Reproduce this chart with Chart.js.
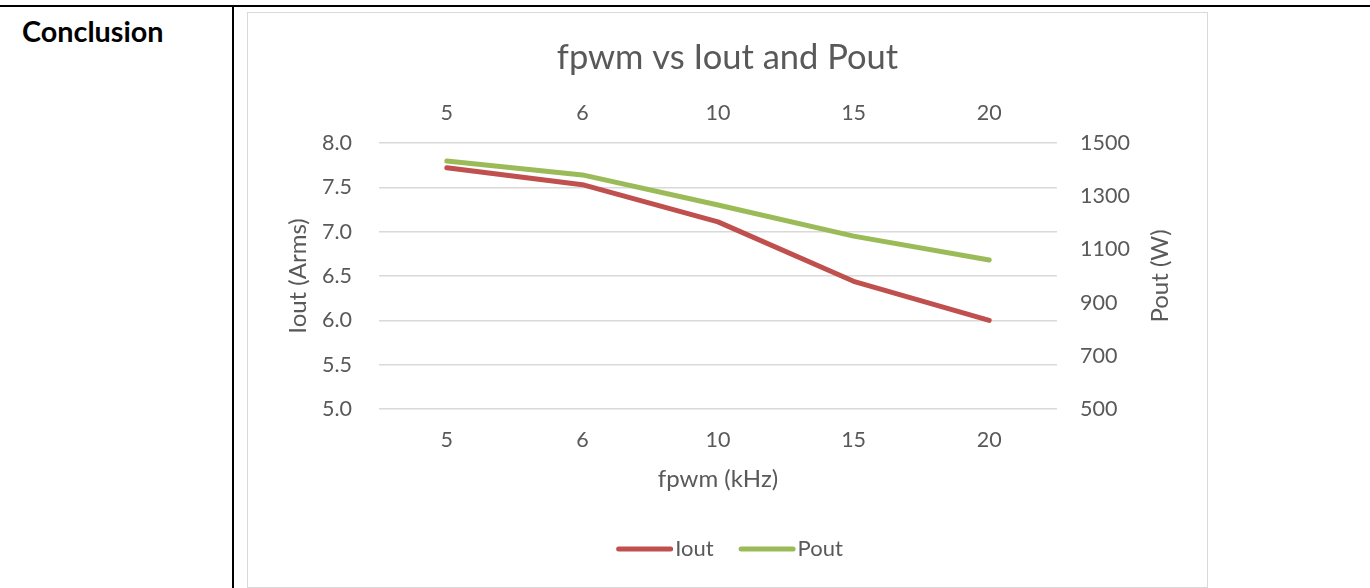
<!DOCTYPE html>
<html><head><meta charset="utf-8">
<script src="https://cdn.jsdelivr.net/npm/chart.js@4.4.1/dist/chart.umd.min.js"></script>
<style>
html,body{margin:0;padding:0;background:#fff;width:1370px;height:588px;overflow:hidden;}
#hline{position:absolute;left:0;top:5px;width:1370px;height:2px;background:#000;}
#vline{position:absolute;left:232px;top:6px;width:2px;height:600px;background:#000;}
#concl{position:absolute;left:22px;top:14px;font:bold 28.8px Lato,sans-serif;color:#000;}
#box{position:absolute;left:247px;top:12px;width:959px;height:574px;border:1px solid #d9d9d9;border-width:1.5px;}
#c{position:absolute;left:0;top:0;}
</style></head>
<body>
<div id="hline"></div><div id="vline"></div>
<div id="concl">Conclusion</div>
<div id="box"><canvas id="c" width="959" height="574"></canvas></div>
<script>
const categories = ['5', '6', '10', '15', '20'];
const ioutValues = [7.72, 7.53, 7.11, 6.44, 6.00];
const poutValues = [1432, 1380, 1267, 1150, 1060];
const chartTitle = 'fpwm vs Iout and Pout';
const xTitle = 'fpwm (kHz)';
const yLeftTitle = 'Iout (Arms)';
const yRightTitle = 'Pout (W)';

const FONT = 'Lato, "Open Sans", sans-serif';
const GREY = '#595959';
const TICK = 21.5;
const AXT = 24;
const LEG = 22;

const extrasPlugin = {
  id: 'extras',
  afterDraw(chart) {
    const ctx = chart.ctx, a = chart.chartArea;
    // right axis title, reading bottom-to-top
    ctx.save();
    ctx.translate(912, (a.top + a.bottom) / 2);
    ctx.rotate(-Math.PI / 2);
    ctx.font = AXT + 'px ' + FONT;
    ctx.fillStyle = GREY;
    ctx.textAlign = 'center';
    ctx.textBaseline = 'middle';
    ctx.fillText(yRightTitle, 0, 0);
    ctx.restore();
    // legend
    ctx.save();
    ctx.font = LEG + 'px ' + FONT;
    const lineLen = 52, gap = 6, spacing = 21;
    const items = chart.data.datasets.map(d => ({label: d.label, color: d.borderColor, w: ctx.measureText(d.label).width}));
    let total = 0;
    items.forEach((it, i) => { total += 2.5 + lineLen + 2.5 + gap + it.w + (i < items.length - 1 ? spacing : 0); });
    let x = chart.width / 2 + 4 - total / 2;
    const y = 536;
    items.forEach(it => {
      ctx.strokeStyle = it.color;
      ctx.lineWidth = 5;
      ctx.lineCap = 'round';
      ctx.beginPath();
      ctx.moveTo(x + 2.5, y);
      ctx.lineTo(x + 2.5 + lineLen, y);
      ctx.stroke();
      x += 2.5 + lineLen + 2.5 + gap;
      ctx.fillStyle = GREY;
      ctx.textAlign = 'left';
      ctx.textBaseline = 'middle';
      ctx.fillText(it.label, x - 4, y);
      x += it.w + spacing;
    });
    ctx.restore();
  }
};

new Chart(document.getElementById('c'), {
  type: 'line',
  data: {
    labels: categories,
    datasets: [
      {label: 'Iout', data: ioutValues, yAxisID: 'y', xAxisID: 'x', borderColor: '#C0504D', backgroundColor: '#C0504D',
       borderWidth: 5, borderCapStyle: 'round', borderJoinStyle: 'round', pointRadius: 0, tension: 0},
      {label: 'Pout', data: poutValues, yAxisID: 'y1', xAxisID: 'x', borderColor: '#9BBB59', backgroundColor: '#9BBB59',
       borderWidth: 5, borderCapStyle: 'round', borderJoinStyle: 'round', pointRadius: 0, tension: 0}
    ]
  },
  options: {
    responsive: false,
    animation: false,
    layout: {padding: {left: 0, right: 0, top: 0, bottom: 63}},
    plugins: {
      title: {display: true, text: chartTitle, color: GREY, font: {family: FONT, size: 34.5, weight: 'normal'}, padding: {top: 24, bottom: 6}},
      legend: {display: false},
      tooltip: {enabled: false}
    },
    scales: {
      x: {type: 'category', position: 'bottom', offset: true,
          grid: {display: false, drawTicks: false}, border: {display: false},
          ticks: {color: GREY, font: {family: FONT, size: TICK}, padding: 18, maxRotation: 0},
          title: {display: true, text: xTitle, color: GREY, font: {family: FONT, size: AXT}, padding: {top: 0, bottom: 30.6}},
          afterFit(s) { s.height = 115; }},
      x2: {type: 'category', position: 'top', labels: categories, offset: true,
          grid: {display: false, drawTicks: false}, border: {display: false},
          ticks: {color: GREY, font: {family: FONT, size: TICK}, padding: 17, maxRotation: 0},
          afterFit(s) { s.height = 130 - 71.4; }},
      y: {position: 'left', min: 5, max: 8,
          grid: {color: '#d9d9d9', lineWidth: 1.5, drawTicks: false}, border: {display: false},
          ticks: {stepSize: 0.5, color: GREY, font: {family: FONT, size: TICK}, padding: 27, callback: v => v.toFixed(1)},
          title: {display: true, text: yLeftTitle, color: GREY, font: {family: FONT, size: AXT}, padding: {top: 35.6, bottom: 0}},
          afterFit(s) { s.width = 131; }},
      y1: {position: 'right', min: 500, max: 1500,
          grid: {drawOnChartArea: false, drawTicks: false}, border: {display: false},
          ticks: {stepSize: 200, color: GREY, font: {family: FONT, size: TICK}, padding: 23, callback: v => String(v)},
          afterFit(s) { s.width = 150; }}
    }
  },
  plugins: [extrasPlugin]
});
</script>
</body></html>
